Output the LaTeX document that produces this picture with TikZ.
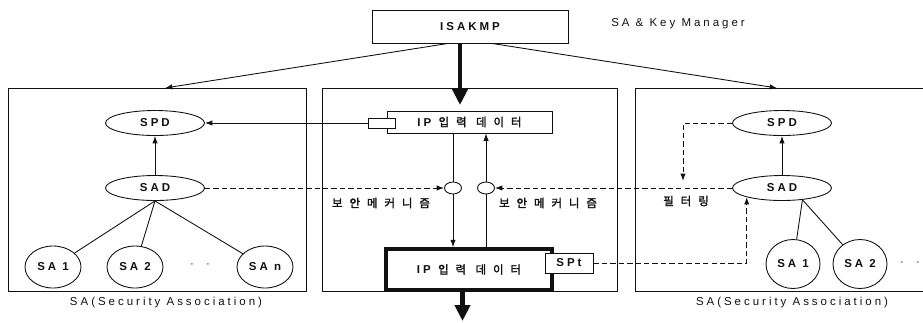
\documentclass[tikz,border=0pt]{standalone}
\usepackage{fontspec}
\setmainfont{Liberation Sans}[LetterSpace=26]
\newfontfamily\hangulsp{Noto Sans CJK KR}[LetterSpace=60,AutoFakeBold=1.8]
\newcommand{\hg}[1]{{\hangulsp #1}}
\usepackage{tikz}
\usetikzlibrary{arrows.meta,positioning,shapes.geometric}
\definecolor{ink}{HTML}{111111}

\begin{document}
\begin{tikzpicture}[x=0.03cm,y=-0.03cm,font=\fontsize{9.8}{11}\selectfont,line width=0.75pt,draw=ink,text=ink,
    oval/.style={ellipse,draw,fill=white,inner sep=0pt,minimum width=2.97cm,minimum height=0.75cm,font=\fontsize{9.8}{11}\selectfont\bfseries},
    saoval/.style={oval,minimum width=1.68cm,minimum height=1.26cm},
    gate/.style={ellipse,draw,fill=white,inner sep=0pt,minimum width=0.51cm,minimum height=0.36cm},
    plainbox/.style={draw,fill=white,inner sep=0pt,font=\fontsize{9.8}{11}\selectfont\bfseries},
    dashline/.style={dash pattern=on 4.6pt off 2.6pt,line width=0.85pt},
    arrowtip/.style={-{Latex[length=2.2mm,width=1.6mm]}},
    fat/.style={line width=4.2pt,-{Triangle[length=4.8mm,width=4.5mm]}}]
  \useasboundingbox (0,0) rectangle (923,322);
  % manager
  \node[plainbox,minimum width=5.88cm,minimum height=0.99cm] (isakmp) at (470,26.5) {ISAKMP};
  \node (keymgr) at (678,24) {SA \& Key Manager};
  % frames
  \node[draw,inner sep=0pt,minimum width=8.94cm,minimum height=6.09cm] (leftbox) at (157,189.5) {};
  \node[draw,inner sep=0pt,minimum width=8.85cm,minimum height=6.09cm] (midbox) at (469.5,189.5) {};
  \draw (923,88) -- (635,88) -- (635,291) -- (923,291);
  \coordinate (ltop) at (165,88);
  \coordinate (rtop) at (777,88);
  \coordinate (feed) at (460,105);
  \draw[arrowtip] ([xshift=-0.66cm]isakmp.south) -- (ltop);
  \draw[arrowtip] ([xshift=0.66cm]isakmp.south) -- (rtop);
  \draw[fat] (feed |- isakmp.south) -- (feed);
  % left side
  \node[oval] (lspd) at (155,123) {SPD};
  \node[oval] (lsad) at (155,188) {SAD};
  \node[saoval] (lsa1) at (53,267) {SA 1};
  \node[saoval] (lsa2) at (135,267) {SA 2};
  \node[saoval] (lsan) at (265,267) {SA n};
  \node (ldots) at (200,266) {·\hspace{3.6mm}·};
  \node (lcap) at (166,303) {SA(Security Association)};
  \draw[arrowtip] (lsad) -- (lspd);
  \foreach \n in {lsa1,lsa2,lsan}
    \draw (lsad.south) -- (\n);
  % middle
  \node[plainbox,minimum width=4.95cm,minimum height=0.66cm] (ipin) at (469.5,122) {IP\hspace{2.2mm}\hg{\bfseries 입력 데이터}};
  \node[draw,fill=white,inner sep=0pt,minimum width=0.81cm,minimum height=0.3cm] (plug) at (381.5,123) {};
  \node[gate] (gatea) at (453,188) {};
  \node[gate] (gateb) at (486,188) {};
  \node[plainbox,line width=3pt,minimum width=4.98cm,minimum height=1.23cm] (ipout) at (469,269.5) {IP\hspace{2.2mm}\hg{\bfseries 입력 데이터}};
  \node[plainbox,minimum width=1.44cm,minimum height=0.6cm] (spt) at (569,263) {SPt};
  \node (meca) at (381,203) {\hg{\bfseries 보안메커니즘}};
  \node (mecb) at (548,203) {\hg{\bfseries 보안메커니즘}};
  \coordinate (exit) at (462.5,321);
  \draw[arrowtip] (plug.west) -- (lspd.east);
  \draw (gatea |- ipin.south) -- (gatea.north);
  \draw[arrowtip] (gatea.south) -- (gatea |- ipout.north);
  \draw (gateb |- ipout.north) -- (gateb.south);
  \draw[arrowtip] (gateb.north) -- (gateb |- ipin.south);
  \draw[fat] (exit |- ipout.south) -- (exit);
  % right side
  \node[oval] (rspd) at (782,123) {SPD};
  \node[oval] (rsad) at (782,188) {SAD};
  \node[saoval,minimum width=1.62cm,minimum height=1.47cm] (rsa1) at (793,264) {SA 1};
  \node[saoval,minimum width=1.62cm,minimum height=1.47cm] (rsa2) at (860,264) {SA 2};
  \node (rdots) at (910,264) {·\hspace{3.6mm}·};
  \node (filt) at (686,201) {\hg{\bfseries 필터링}};
  \node (rcap) at (792,303) {SA(Security Association)};
  \coordinate (filtdrop) at (683,181);
  \draw[arrowtip] (rsad) -- (rspd);
  \foreach \n in {rsa1,rsa2}
    \draw (rsad.-30) -- (\n);
  % dashed links
  \draw[dashline,arrowtip] (lsad.east) -- (gatea.west);
  \draw[dashline,arrowtip] (rsad.west) -- (gateb.east);
  \draw[dashline,arrowtip] (rspd.west) -| (filtdrop);
  \draw[dashline,arrowtip] (spt.east) -| (rsad.south west);
\end{tikzpicture}
\end{document}
